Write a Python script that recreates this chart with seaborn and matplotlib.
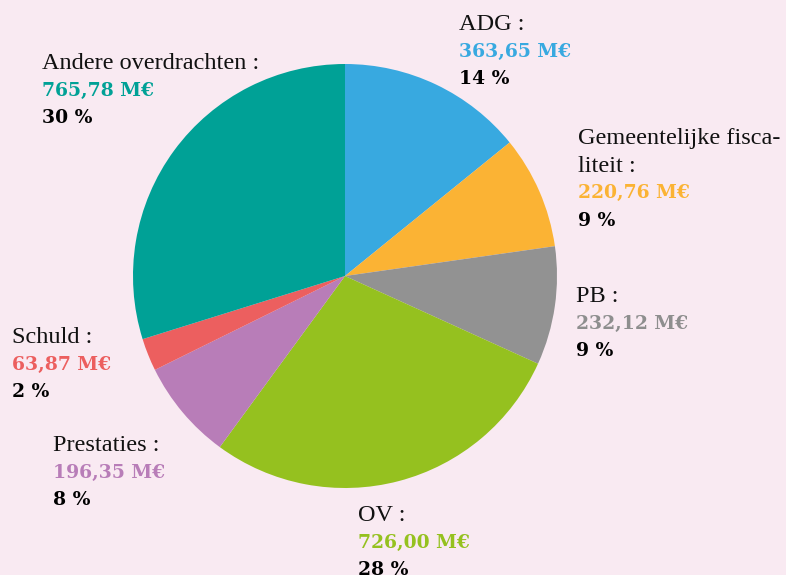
import matplotlib
matplotlib.use("Agg")
import matplotlib.pyplot as plt
import seaborn as sns

names = ["ADG :", "Gemeentelijke fisca-\nliteit :", "PB :", "OV :", "Prestaties :", "Schuld :", "Andere overdrachten :"]
values = [363.65, 220.76, 232.12, 726.00, 196.35, 63.87, 765.78]
value_labels = ["363,65 M€", "220,76 M€", "232,12 M€", "726,00 M€", "196,35 M€", "63,87 M€", "765,78 M€"]
pct_labels = ["14 %", "9 %", "9 %", "28 %", "8 %", "2 %", "30 %"]
colors = ["#38A9E0", "#FBB334", "#929292", "#95C11F", "#B87DB8", "#EC5F5F", "#00A196"]
text_colors = ["#38A9E0", "#FBB334", "#8E8E8E", "#95C11F", "#B87DB8", "#EC5F5F", "#00A196"]

# label anchor positions in pixels (left x, center y of first line)
label_pos = [(459, 22), (578, 136), (576, 294), (358, 513), (53, 443), (12, 335), (42, 61)]

bg = "#F9EAF2"
sns.set_theme(style="white")
plt.rcParams["font.family"] = ["DejaVu Sans"]

W, H = 786, 575
fig = plt.figure(figsize=(W / 100, H / 100), dpi=100)
fig.patch.set_facecolor(bg)

cx, cy, r = 345, 276, 212
ax = fig.add_axes([(cx - r) / W, (H - (cy + r)) / H, 2 * r / W, 2 * r / H])
ax.set_facecolor(bg)
ax.pie(values, colors=colors, startangle=90, counterclock=False, radius=1,
       wedgeprops=dict(linewidth=0))
ax.set_xlim(-1, 1)
ax.set_ylim(-1, 1)
ax.set_aspect("equal")
ax.axis("off")

line_h = 27.5
for name, val, pct, col, (x, y) in zip(names, value_labels, pct_labels, text_colors, label_pos):
    lines = name.split("\n")
    for i, ln in enumerate(lines):
        fig.text(x / W, 1 - (y + i * line_h) / H, ln, ha="left", va="center_baseline",
                 fontsize=17.5, family="Liberation Serif", color="#111111")
    yv = y + len(lines) * line_h
    fig.text(x / W, 1 - yv / H, val, ha="left", va="center_baseline", fontsize=13.5,
             family="DejaVu Serif", fontweight="bold", color=col)
    fig.text(x / W, 1 - (yv + line_h) / H, pct, ha="left", va="center_baseline", fontsize=13.5,
             family="DejaVu Serif", fontweight="bold", color="#000000")

fig.savefig("out.png", dpi=100, facecolor=bg)
